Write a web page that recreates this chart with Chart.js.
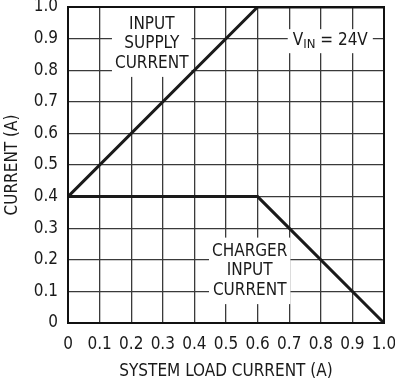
<!DOCTYPE html>
<html>
<head>
<meta charset="utf-8">
<script src="https://cdn.jsdelivr.net/npm/chart.js@4/dist/chart.umd.min.js"></script>
<style>
  html, body { margin: 0; padding: 0; background: #ffffff; }
  #wrap { width: 395px; height: 382px; }
</style>
</head>
<body>
<div id="wrap"><canvas id="c" width="395" height="382"></canvas></div>
<script>
// ---- data ----
const loadCurrent = [0, 0.6, 1.0];            // x: system load current (A)
const inputSupplyCurrent = [0.4, 1.0, 1.0];   // y: input supply current (A)
const chargerInputCurrent = [0.4, 0.4, 0];    // y: charger input current (A)
const tickValues = [0, 0.1, 0.2, 0.3, 0.4, 0.5, 0.6, 0.7, 0.8, 0.9, 1.0];
const tickLabels = ['0', '0.1', '0.2', '0.3', '0.4', '0.5', '0.6', '0.7', '0.8', '0.9', '1.0'];
const xTitle = 'SYSTEM LOAD CURRENT (A)';
const yTitle = 'CURRENT (A)';
const labelInput = ['INPUT', 'SUPPLY', 'CURRENT'];
const labelCharger = ['CHARGER', 'INPUT', 'CURRENT'];

const FONT = "'Liberation Sans Narrow', 'DejaVu Sans Condensed', 'Liberation Sans', sans-serif";

// annotation anchors (data coords of text centre)
const annotations = [
  { lines: labelInput, x: 0.265, y: 0.884, padX: 3, padY: 4, topToArea: true },
  { lines: labelCharger, x: 0.575, y: 0.165, padX: 3, padY: 4 },
  { vin: true, x: 0.83, y: 0.895, padX: 5, padY: 3 }
];

const labelPlugin = {
  id: 'labels',
  beforeDatasetsDraw(chart) {
    const ctx = chart.ctx;
    const xs = chart.scales.x, ys = chart.scales.y;
    const lh = 19.5;
    ctx.save();
    ctx.textBaseline = 'middle';
    ctx.textAlign = 'center';
    ctx.fillStyle = '#1a1a1a';
    annotations.forEach(a => {
      const cx = xs.getPixelForValue(a.x);
      const cy = ys.getPixelForValue(a.y);
      if (a.vin) {
        ctx.font = '17px ' + FONT;
        const wV = ctx.measureText('V').width;
        ctx.font = '13px ' + FONT;
        const wIN = ctx.measureText('IN').width;
        ctx.font = '17px ' + FONT;
        const wRest = ctx.measureText(' = 24V').width;
        const total = wV + wIN + wRest;
        ctx.fillStyle = '#ffffff';
        ctx.fillRect(cx - total / 2 - a.padX, cy - 11, total + 2 * a.padX, 24);
        ctx.fillStyle = '#1a1a1a';
        ctx.textAlign = 'left';
        let x0 = cx - total / 2;
        ctx.fillText('V', x0, cy);
        ctx.font = '13px ' + FONT;
        ctx.fillText('IN', x0 + wV, cy + 4);
        ctx.font = '17px ' + FONT;
        ctx.fillText(' = 24V', x0 + wV + wIN, cy);
        ctx.textAlign = 'center';
        return;
      }
      ctx.font = '17px ' + FONT;
      let w = 0;
      a.lines.forEach(l => { w = Math.max(w, ctx.measureText(l).width); });
      const h = a.lines.length * lh;
      let top = cy - h / 2 - a.padY;
      if (a.topToArea) top = chart.chartArea.top;
      const bottom = cy + h / 2 + a.padY;
      ctx.fillStyle = '#ffffff';
      ctx.fillRect(cx - w / 2 - a.padX, top, w + 2 * a.padX, bottom - top);
      ctx.fillStyle = '#1a1a1a';
      a.lines.forEach((l, i) => {
        ctx.fillText(l, cx, cy - h / 2 + lh / 2 + i * lh);
      });
    });
    ctx.restore();
  },
  afterDraw(chart) {
    const { left, right, top, bottom } = chart.chartArea;
    const ctx = chart.ctx;
    ctx.save();
    ctx.strokeStyle = '#111';
    ctx.lineWidth = 2;
    ctx.strokeRect(left, top, right - left, bottom - top);
    ctx.restore();
  }
};

const toPoints = (xa, ya) => xa.map((x, i) => ({ x: x, y: ya[i] }));

new Chart(document.getElementById('c'), {
  type: 'scatter',
  data: {
    datasets: [
      { label: 'Input Supply Current', data: toPoints(loadCurrent, inputSupplyCurrent),
        showLine: true, borderColor: '#1a1a1a', borderWidth: 3, pointRadius: 0, tension: 0 },
      { label: 'Charger Input Current', data: toPoints(loadCurrent, chargerInputCurrent),
        showLine: true, borderColor: '#1a1a1a', borderWidth: 3, pointRadius: 0, tension: 0 }
    ]
  },
  options: {
    responsive: false,
    animation: false,
    devicePixelRatio: 1,
    layout: { padding: { top: 7, right: 11, left: 0, bottom: 0 } },
    plugins: { legend: { display: false }, tooltip: { enabled: false } },
    scales: {
      x: {
        type: 'linear', min: 0, max: 1,
        afterBuildTicks: s => { s.ticks = tickValues.map(v => ({ value: v })); },
        afterFit: s => { s.height = 59; s.paddingLeft = 0; s.paddingRight = 0; },
        ticks: {
          padding: 11, color: '#1a1a1a', maxRotation: 0, autoSkip: false,
          font: { family: FONT, size: 17 },
          callback: (v) => tickLabels[tickValues.findIndex(t => Math.abs(t - v) < 1e-9)]
        },
        grid: { color: '#3a3a3a', lineWidth: 1.3, drawTicks: false },
        border: { display: false },
        title: { display: true, text: xTitle, color: '#1a1a1a',
                 font: { family: FONT, size: 17 }, padding: { top: 0, bottom: 0 } }
      },
      y: {
        type: 'linear', min: 0, max: 1,
        afterBuildTicks: s => { s.ticks = tickValues.map(v => ({ value: v })); },
        afterFit: s => { s.width = 68; s.paddingTop = 0; s.paddingBottom = 0; },
        ticks: {
          padding: 10, color: '#1a1a1a', autoSkip: false,
          font: { family: FONT, size: 17 },
          callback: (v) => tickLabels[tickValues.findIndex(t => Math.abs(t - v) < 1e-9)]
        },
        grid: { color: '#3a3a3a', lineWidth: 1.3, drawTicks: false },
        border: { display: false },
        title: { display: true, text: yTitle, color: '#1a1a1a',
                 font: { family: FONT, size: 17 }, padding: { top: 2, bottom: 0 } }
      }
    }
  },
  plugins: [labelPlugin]
});
</script>
</body>
</html>
